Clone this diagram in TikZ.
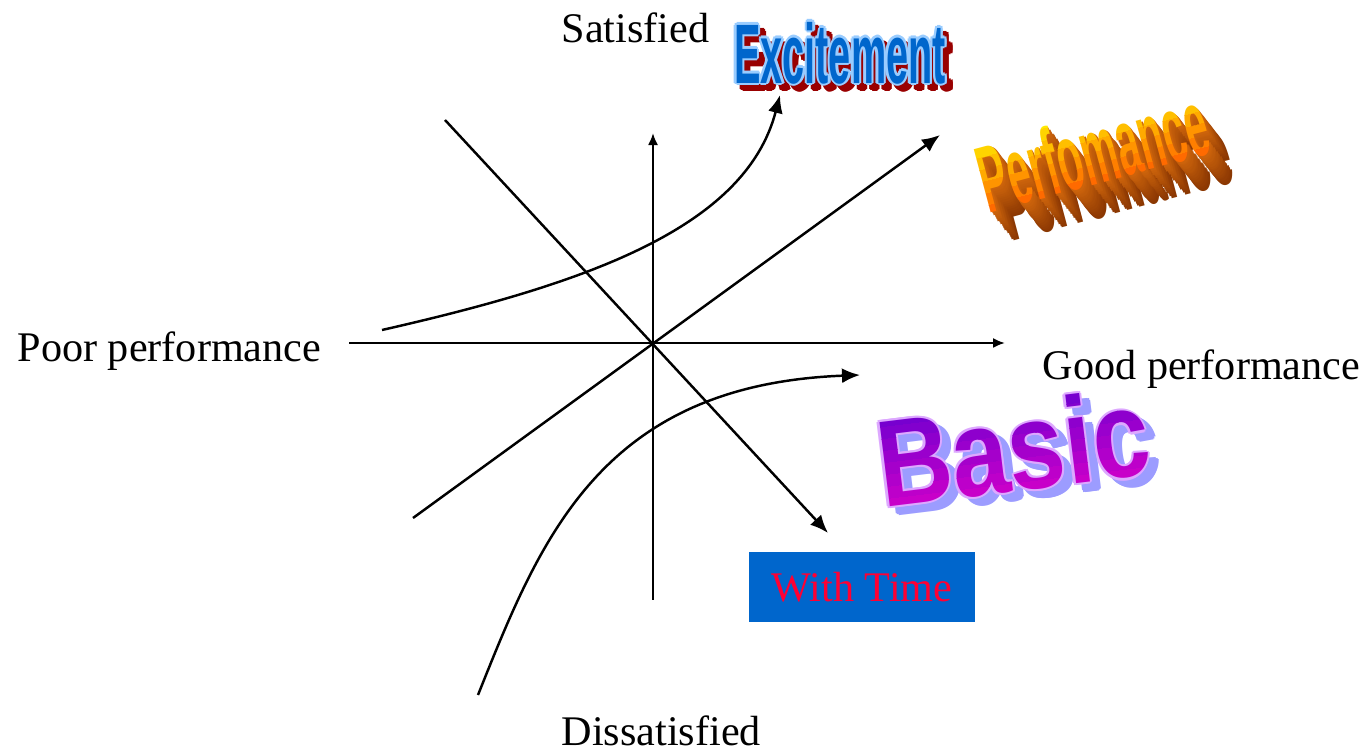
\documentclass[tikz,border=0pt]{standalone}
\usepackage{fontspec}
\setmainfont{Liberation Serif}
\newfontfamily\artfont{Liberation Sans}
\usetikzlibrary{arrows.meta}

\definecolor{wordblue}{HTML}{0066CC}
\definecolor{edgeblue}{HTML}{99CCFF}
\definecolor{shadowred}{HTML}{990000}
\definecolor{timered}{HTML}{FF0033}
\definecolor{perftop}{HTML}{FFEA00}
\definecolor{perfbottom}{HTML}{FF5500}
\definecolor{perfside}{HTML}{D0660C}
\definecolor{perfdeep}{HTML}{7A2C00}
\definecolor{basictop}{HTML}{6A00D0}
\definecolor{basicbottom}{HTML}{D400C8}
\definecolor{basicedge}{HTML}{DDA8FF}
\definecolor{basicshadow}{HTML}{9C9CFF}

\tikzset{
    axisline/.style={line width=0.6pt, -{Latex[length=1.2mm,width=1mm]}},
    trendline/.style={line width=0.7pt, -{Latex[length=1.8mm,width=1.5mm]}},
    axislabel/.style={font=\fontsize{12}{14}\selectfont, inner sep=0pt, anchor=base west},
    exword/.style={font=\artfont\bfseries\fontsize{24}{24}\selectfont, xscale=0.47, inner sep=0pt},
    perfword/.style={font=\artfont\bfseries\fontsize{27}{27}\selectfont, xscale=0.43, inner sep=0pt, transform shape},
    basicword/.style={font=\artfont\bfseries\fontsize{35}{35}\selectfont, xscale=0.83, inner sep=0pt, transform shape}
}

\begin{document}
\begin{tikzpicture}[x=0.01cm, y=-0.01cm]

    \useasboundingbox (0,0) rectangle (1366,752);

    % Eixos
    \coordinate (poor) at (349,343);
    \coordinate (good) at (1005,343);
    \coordinate (low) at (653,600);
    \coordinate (high) at (653,133);
    \draw[axisline] (poor) -- (good);
    \draw[axisline] (low) -- (high);

    % Rotulos dos eixos
    \node[axislabel] (satisfied) at (561,43) {Satisfied};
    \node[axislabel] (dissatisfied) at (561,745) {Dissatisfied};
    \node[axislabel] (poorlabel) at (17,362) {Poor performance};
    \node[axislabel] (goodlabel) at (1042,380) {Good performance};

    % Curvas
    \coordinate (time start) at (445,120);
    \coordinate (time end) at (828,533);
    \coordinate (perf start) at (413,518);
    \coordinate (perf end) at (940,135);
    \coordinate (exc start) at (382,330);
    \coordinate (exc end) at (780,95);
    \coordinate (basic start) at (478,695);
    \coordinate (basic end) at (860,375);
    \draw[trendline] (time start) -- (time end);
    \draw[trendline] (perf start) -- (perf end);
    \draw[trendline] (exc start) .. controls (580,285) and (745,230) .. (exc end);
    \draw[trendline] (basic start) .. controls (540,540) and (600,385) .. (basic end);

    % With Time
    \node[fill=wordblue, text=timered, font=\fontsize{12}{14}\selectfont,
          minimum width=2.26cm, minimum height=0.7cm] (withtime) at (862,587) {With Time};

    % Excitement (sombra, contorno, letra)
    \foreach \sx/\col in {6/shadowred, 0/edgeblue} {
        \foreach \a in {0,45,...,315} {
            \node[exword, text=\col] at ({840+\sx+2.4*cos(\a)}, {53+\sx+2.4*sin(\a)}) {Excitement};
        }
    }
    \node[exword, text=wordblue] (excitement) at (840,53) {Excitement};

    % Perfomance (relevo e degrade)
    \foreach \k in {16,15,...,1} {
        \pgfmathtruncatemacro\mix{100-5*\k}
        \begin{scope}[shift={(1093+1.4*\k,150+1.8*\k)}, rotate=15]
            \node[perfword, text=perfside!\mix!perfdeep] at (0,0) {Perfomance};
        \end{scope}
    }
    \begin{scope}[shift={(1093,150)}, rotate=15]
        \foreach \i in {0,...,7} {
            \begin{scope}
                \clip (-200,{-46+12*\i}) rectangle (200,{-34+12*\i});
                \pgfmathtruncatemacro\mix{100-100*\i/7}
                \node[perfword, text=perftop!\mix!perfbottom] at (0,0) {Perfomance};
            \end{scope}
        }
        \node[perfword, text opacity=0] (perfomance) at (0,0) {Perfomance};
    \end{scope}

    % Basic (sombra, contorno e degrade)
    \begin{scope}[shift={(1013,447)}, rotate=7]
        \foreach \sx/\col in {8/basicshadow, 0/basicedge} {
            \foreach \a in {0,45,...,315} {
                \node[basicword, text=\col] at ({\sx+2.2*cos(\a)}, {\sx+2.2*sin(\a)}) {Basic};
            }
        }
        \foreach \i in {0,...,9} {
            \begin{scope}
                \clip (-200,{-60+12*\i}) rectangle (200,{-48+12*\i});
                \pgfmathtruncatemacro\mix{100-100*\i/9}
                \node[basicword, text=basictop!\mix!basicbottom] at (0,0) {Basic};
            \end{scope}
        }
        \node[basicword, text opacity=0] (basic) at (0,0) {Basic};
    \end{scope}

\end{tikzpicture}
\end{document}
